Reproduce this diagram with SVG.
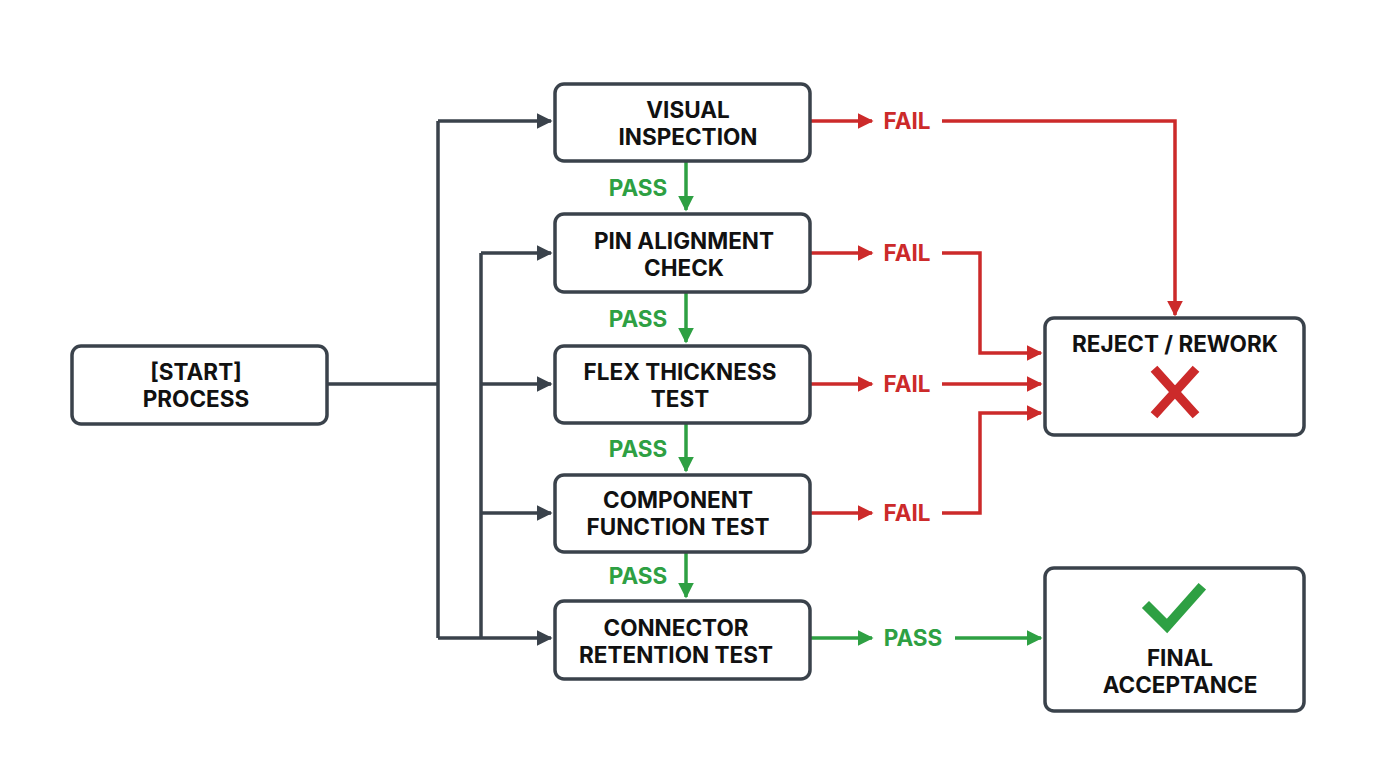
<svg xmlns="http://www.w3.org/2000/svg" width="1376" height="768" viewBox="0 0 1376 768">
<style>
.n{fill:#fff;stroke:#3a424b;stroke-width:3.5}
.t{font-family:Inter,"Liberation Sans",sans-serif;font-weight:700;font-size:22.5px;fill:#111;text-anchor:middle}
.g{stroke:#3a424b;stroke-width:3.5;fill:none}
.r{stroke:#cc2a2a;stroke-width:3.5;fill:none}
.p{stroke:#2ea043;stroke-width:3.5;fill:none}
.fl{font-family:Inter,"Liberation Sans",sans-serif;font-weight:700;font-size:22.5px;fill:#cc2a2a;text-anchor:middle}
.pl{font-family:Inter,"Liberation Sans",sans-serif;font-weight:700;font-size:22.5px;fill:#2ea043;text-anchor:middle}
</style>
<defs>
<marker id="ag" viewBox="0 0 10 10" refX="9" refY="5" markerWidth="4.5" markerHeight="4.5" orient="auto" markerUnits="strokeWidth"><path d="M0,0L10,5L0,10z" fill="#3a424b"/></marker>
<marker id="ar" viewBox="0 0 10 10" refX="9" refY="5" markerWidth="4.5" markerHeight="4.5" orient="auto" markerUnits="strokeWidth"><path d="M0,0L10,5L0,10z" fill="#cc2a2a"/></marker>
<marker id="ap" viewBox="0 0 10 10" refX="9" refY="5" markerWidth="4.5" markerHeight="4.5" orient="auto" markerUnits="strokeWidth"><path d="M0,0L10,5L0,10z" fill="#2ea043"/></marker>
</defs>
<rect width="1376" height="768" fill="#fff"/>
<g id="connectors">
<path class="g" d="M327,384H438M438,121V638"/>
<path class="g" d="M438,121H551" marker-end="url(#ag)"/>
<path class="g" d="M438,638H551" marker-end="url(#ag)"/>
<path class="g" d="M481,253V638"/>
<path class="g" d="M481,253H551" marker-end="url(#ag)"/>
<path class="g" d="M481,384H551" marker-end="url(#ag)"/>
<path class="g" d="M481,513H551" marker-end="url(#ag)"/>
<path class="r" d="M810,121H872" marker-end="url(#ar)"/>
<text class="fl" x="907" y="129">FAIL</text>
<path class="r" d="M942,121H1175V315" marker-end="url(#ar)"/>
<path class="r" d="M810,253H872" marker-end="url(#ar)"/>
<text class="fl" x="907" y="261">FAIL</text>
<path class="r" d="M942,253H980V353H1041" marker-end="url(#ar)"/>
<path class="r" d="M810,384H872" marker-end="url(#ar)"/>
<text class="fl" x="907" y="392">FAIL</text>
<path class="r" d="M942,384H1041" marker-end="url(#ar)"/>
<path class="r" d="M810,513H872" marker-end="url(#ar)"/>
<text class="fl" x="907" y="521">FAIL</text>
<path class="r" d="M942,513H980V413H1041" marker-end="url(#ar)"/>
<path class="p" d="M686,162V210" marker-end="url(#ap)"/>
<text class="pl" x="638" y="196">PASS</text>
<path class="p" d="M686,293V342" marker-end="url(#ap)"/>
<text class="pl" x="638" y="327">PASS</text>
<path class="p" d="M686,424V471" marker-end="url(#ap)"/>
<text class="pl" x="638" y="457">PASS</text>
<path class="p" d="M686,553V597" marker-end="url(#ap)"/>
<text class="pl" x="638" y="584">PASS</text>
<path class="p" d="M810,638H872" marker-end="url(#ap)"/>
<text class="pl" x="913" y="646">PASS</text>
<path class="p" d="M955,638H1041" marker-end="url(#ap)"/>
</g>
<g id="start"><rect class="n" x="72" y="346" width="255" height="78" rx="9"/><text class="t" x="196" y="380">[START]</text><text class="t" x="196" y="407">PROCESS</text></g>
<g id="visual"><rect class="n" x="555" y="84" width="255" height="77" rx="9"/><text class="t" x="688" y="118">VISUAL</text><text class="t" x="688" y="145">INSPECTION</text></g>
<g id="pin"><rect class="n" x="555" y="214" width="255" height="78" rx="9"/><text class="t" x="684" y="249">PIN ALIGNMENT</text><text class="t" x="684" y="276">CHECK</text></g>
<g id="flex"><rect class="n" x="555" y="346" width="255" height="77" rx="9"/><text class="t" x="680" y="380">FLEX THICKNESS</text><text class="t" x="680" y="407">TEST</text></g>
<g id="component"><rect class="n" x="555" y="475" width="255" height="77" rx="9"/><text class="t" x="678" y="508">COMPONENT</text><text class="t" x="678" y="535">FUNCTION TEST</text></g>
<g id="connector"><rect class="n" x="555" y="601" width="255" height="78" rx="9"/><text class="t" x="676" y="636">CONNECTOR</text><text class="t" x="676" y="663">RETENTION TEST</text></g>
<g id="reject"><rect class="n" x="1045" y="318" width="259" height="117" rx="9"/><text class="t" x="1175" y="352">REJECT / REWORK</text><path d="M1157,372L1193,412M1193,372L1157,412" stroke="#cc2a2a" stroke-width="9" stroke-linecap="square"/></g>
<g id="final"><rect class="n" x="1045" y="568" width="259" height="143" rx="9"/><path d="M1149,608L1167,626L1199,590" stroke="#2ea043" stroke-width="10" fill="none" stroke-linecap="square"/><text class="t" x="1180" y="666">FINAL</text><text class="t" x="1180" y="693">ACCEPTANCE</text></g>
</svg>
